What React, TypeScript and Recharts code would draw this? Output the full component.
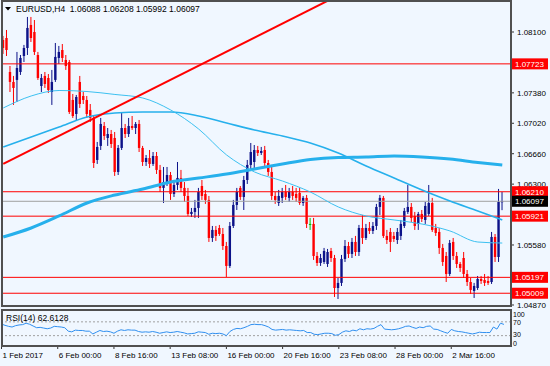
import React from 'react';
import { ComposedChart, Bar, Line, XAxis, YAxis, ReferenceLine } from 'recharts';

const symbol = 'EURUSD,H4';

// time axis: one label every 16 H4 candles
const tickIdx = [0, 16, 32, 48, 64, 80, 96, 112, 128];
const tickLabels = ['1 Feb 2017', '6 Feb 00:00', '8 Feb 16:00', '13 Feb 08:00', '16 Feb 00:00', '20 Feb 16:00', '23 Feb 08:00', '28 Feb 00:00', '2 Mar 16:00'];

const opens = [
  1.08006, 1.08029, 1.07627, 1.07509, 1.07533, 1.07627, 1.07816, 1.07911, 1.08183, 1.081,
  1.07828, 1.07461, 1.0758, 1.07556, 1.0739, 1.07533, 1.07793, 1.07887, 1.07769, 1.07745,
  1.07296, 1.0713, 1.07509, 1.07343, 1.07296, 1.07178, 1.07083, 1.06586, 1.06752, 1.06988,
  1.06846, 1.06893, 1.06846, 1.06444, 1.06728, 1.06964, 1.06893, 1.06988, 1.06964, 1.07012,
  1.06728, 1.06562, 1.06609, 1.06539, 1.06633, 1.06468, 1.06255, 1.06314, 1.06408, 1.06184,
  1.0629, 1.06373, 1.06255, 1.0616, 1.05947, 1.05971, 1.06018, 1.06278, 1.06184, 1.06113,
  1.05663, 1.05758, 1.05781, 1.0571, 1.05568, 1.05332, 1.05805, 1.06054, 1.06255, 1.06148,
  1.06349, 1.06527, 1.06562, 1.06704, 1.06669, 1.06704, 1.0655, 1.06444, 1.0616, 1.06077,
  1.06137, 1.06207, 1.06137, 1.06207, 1.06184, 1.06196, 1.06077, 1.06137, 1.05829, 1.05829,
  1.0545, 1.05367, 1.05379, 1.05355, 1.05509, 1.05426, 1.05071, 1.05131, 1.05415, 1.05568,
  1.05474, 1.05616, 1.05497, 1.05781, 1.05663, 1.05781, 1.05746, 1.05805, 1.0603, 1.06137,
  1.05687, 1.05734, 1.05687, 1.05639, 1.05687, 1.05805, 1.05971, 1.0603, 1.05923, 1.05829,
  1.05947, 1.05876, 1.05947, 1.06077, 1.05781, 1.05734, 1.05545, 1.0545, 1.05237, 1.05616,
  1.0545, 1.05355, 1.05426, 1.05237, 1.05142, 1.05036, 1.05071, 1.05178, 1.05166, 1.05154,
  1.05142, 1.05675, 1.05438, 1.06088,
];
const highs = [
  1.08053, 1.08124, 1.07698, 1.0758, 1.07864, 1.07828, 1.07947, 1.08278, 1.08278, 1.08242,
  1.07864, 1.07603, 1.07627, 1.07603, 1.07651, 1.0797, 1.07935, 1.07958, 1.07828, 1.07769,
  1.07367, 1.07355, 1.0758, 1.0739, 1.07343, 1.07248, 1.07118, 1.06799, 1.07083, 1.07035,
  1.06964, 1.06941, 1.06917, 1.06763, 1.07142, 1.07012, 1.07083, 1.07106, 1.07035, 1.07059,
  1.06752, 1.06645, 1.06704, 1.0668, 1.0668, 1.06527, 1.06503, 1.06503, 1.06444, 1.06325,
  1.06562, 1.06468, 1.06325, 1.06255, 1.06018, 1.06113, 1.06255, 1.06349, 1.06231, 1.0616,
  1.05805, 1.05805, 1.05817, 1.05781, 1.05616, 1.05852, 1.06113, 1.06255, 1.06278, 1.06397,
  1.06586, 1.06787, 1.06763, 1.06752, 1.0674, 1.06752, 1.06586, 1.06527, 1.06207, 1.06231,
  1.06255, 1.0629, 1.06255, 1.06278, 1.06255, 1.06255, 1.0616, 1.06172, 1.059, 1.059,
  1.05497, 1.05474, 1.05545, 1.05533, 1.05545, 1.05462, 1.0519, 1.05462, 1.05639, 1.05616,
  1.05663, 1.05687, 1.05817, 1.05935, 1.05829, 1.05852, 1.05852, 1.06066, 1.06172, 1.0616,
  1.05758, 1.05781, 1.05734, 1.05781, 1.05876, 1.06018, 1.0629, 1.06077, 1.05971, 1.05971,
  1.05994, 1.06089, 1.0629, 1.06137, 1.05829, 1.05781, 1.05592, 1.05497, 1.05639, 1.05663,
  1.05497, 1.05379, 1.05497, 1.05284, 1.0519, 1.05131, 1.05213, 1.05213, 1.05237, 1.05213,
  1.05734, 1.0571, 1.06243, 1.06208,
];
const lows = [
  1.0784, 1.07816, 1.0739, 1.07237, 1.07272, 1.07592, 1.07745, 1.07828, 1.07982, 1.07828,
  1.07533, 1.0739, 1.07438, 1.07379, 1.07237, 1.07509, 1.07722, 1.07745, 1.07651, 1.0713,
  1.07083, 1.07059, 1.07201, 1.07248, 1.07083, 1.07035, 1.06491, 1.06539, 1.06704, 1.06823,
  1.06752, 1.06728, 1.06397, 1.06408, 1.06704, 1.06846, 1.06858, 1.06941, 1.06893, 1.0668,
  1.06515, 1.06515, 1.06491, 1.06515, 1.0642, 1.06207, 1.06077, 1.06278, 1.06113, 1.06148,
  1.06231, 1.06207, 1.06089, 1.05923, 1.05911, 1.059, 1.059, 1.06113, 1.06066, 1.05616,
  1.05616, 1.05628, 1.05687, 1.05521, 1.05201, 1.05308, 1.05781, 1.05994, 1.06113, 1.05994,
  1.06302, 1.06468, 1.06468, 1.06633, 1.06645, 1.06515, 1.06397, 1.06113, 1.06066, 1.06042,
  1.06077, 1.06113, 1.06089, 1.06113, 1.06089, 1.06054, 1.06042, 1.05781, 1.05758, 1.05403,
  1.05332, 1.05332, 1.05355, 1.0532, 1.05379, 1.04965, 1.04941, 1.05095, 1.05379, 1.05426,
  1.05426, 1.0545, 1.0545, 1.05592, 1.05639, 1.0571, 1.0571, 1.05758, 1.05935, 1.05663,
  1.05592, 1.05497, 1.05616, 1.05592, 1.05639, 1.05781, 1.05947, 1.05852, 1.05758, 1.05758,
  1.05852, 1.05829, 1.05923, 1.05734, 1.05687, 1.05474, 1.05332, 1.05142, 1.05213, 1.05403,
  1.05308, 1.05261, 1.0519, 1.05095, 1.05, 1.04953, 1.05048, 1.05119, 1.05095, 1.05107,
  1.05119, 1.05379, 1.05379, 1.05992,
];
const closes = [
  1.07911, 1.07887, 1.07509, 1.07438, 1.07674, 1.07793, 1.07911, 1.08148, 1.08029, 1.07864,
  1.07556, 1.07556, 1.07485, 1.07414, 1.07509, 1.07805, 1.07864, 1.07793, 1.07698, 1.07154,
  1.07106, 1.07331, 1.07248, 1.07296, 1.0713, 1.07083, 1.0655, 1.0674, 1.07012, 1.0687,
  1.06893, 1.06775, 1.06444, 1.06728, 1.06964, 1.06893, 1.06988, 1.06964, 1.07012, 1.06728,
  1.06562, 1.06609, 1.06539, 1.06633, 1.06468, 1.06255, 1.06325, 1.06408, 1.06184, 1.0629,
  1.06373, 1.06255, 1.0616, 1.05947, 1.05971, 1.06018, 1.06207, 1.0616, 1.06113, 1.05663,
  1.05758, 1.05687, 1.0571, 1.05568, 1.05332, 1.05805, 1.06054, 1.06207, 1.06148, 1.06349,
  1.06527, 1.0668, 1.06704, 1.06669, 1.06692, 1.0655, 1.06444, 1.0616, 1.06113, 1.0616,
  1.06207, 1.06148, 1.06207, 1.0616, 1.06137, 1.06077, 1.06137, 1.05829, 1.05829, 1.0545,
  1.05367, 1.05426, 1.05509, 1.05497, 1.05426, 1.05071, 1.05131, 1.05415, 1.05568, 1.05474,
  1.05616, 1.05497, 1.05781, 1.05663, 1.05781, 1.05746, 1.05805, 1.0603, 1.06137, 1.05687,
  1.05639, 1.05616, 1.05651, 1.05734, 1.05829, 1.05983, 1.0603, 1.059, 1.05805, 1.05947,
  1.05888, 1.06042, 1.06077, 1.05758, 1.05722, 1.05545, 1.05379, 1.05237, 1.05604, 1.0545,
  1.05355, 1.05308, 1.05237, 1.05142, 1.05048, 1.05095, 1.05178, 1.05154, 1.05131, 1.05131,
  1.05675, 1.05438, 1.06089, 1.06097,
];

// moving averages, read every 8th candle
const maIdx = [0, 8, 16, 24, 32, 40, 48, 56, 64, 72, 80, 88, 96, 104, 112, 120, 128, 136, 143];
const maFast = [1.07201, 1.07343, 1.07408, 1.07396, 1.07361, 1.07319, 1.07177, 1.06952, 1.06645, 1.06444, 1.06337, 1.06207, 1.0603, 1.05923, 1.05876, 1.05828, 1.05746, 1.05615, 1.05603];
const maMid = [1.06739, 1.06858, 1.06976, 1.07094, 1.07142, 1.07153, 1.07153, 1.07106, 1.07023, 1.0694, 1.06869, 1.06787, 1.06668, 1.06514, 1.06372, 1.0623, 1.061, 1.05982, 1.05876];
const maSlow = [1.05674, 1.05781, 1.05923, 1.06077, 1.06171, 1.06242, 1.06325, 1.06372, 1.0642, 1.06479, 1.06538, 1.06591, 1.06615, 1.06621, 1.06633, 1.06621, 1.06597, 1.06556, 1.06526];

const rsi = [
  63.5, 60, 57, 55, 59, 61, 62, 66, 63, 58, 53, 54, 52, 50, 52, 57, 56, 55, 53, 43,
  41, 46, 45, 45, 43, 43, 35, 40, 45, 42, 43, 41, 37, 43, 47, 45, 47, 46, 46, 42,
  40, 41, 40, 42, 40, 37, 39, 41, 39, 40, 42, 40, 38, 35, 36, 37, 41, 40, 39, 34,
  37, 36, 37, 35, 30, 42, 48, 51, 50, 53, 57, 62, 63, 62, 62, 59, 55, 48, 46, 47,
  48, 46, 47, 46, 45, 44, 45, 39, 39, 34, 33, 35, 37, 37, 36, 31, 33, 40, 44, 42,
  46, 44, 50, 47, 50, 49, 51, 57, 62, 49, 48, 47, 48, 50, 53, 57, 58, 54, 51, 55,
  53, 57, 58, 49, 48, 44, 40, 37, 48, 44, 42, 41, 39, 37, 35, 37, 40, 39, 39, 39,
  55, 49, 66, 62.6128,
];

const priceTicks = [1.081, 1.0738, 1.0702, 1.0666, 1.063, 1.0558, 1.0487];
const levels = [1.07723, 1.0621, 1.05921, 1.05197, 1.05009];
const bid = 1.06097;
const trendStart = 1.0654;
const trendEnd = 1.0847;
const trendEndIdx = 93;
const rsiTicks = [0, 30, 70, 100];

const SLOTS = 146;
const PMIN = 1.04858;
const PMAX = 1.08455;
const BULL = '#0c1289';
const BEAR = '#ff0000';
const DOJI = '#00c000';
const MA = '#26b0ec';
const FONT = '"Liberation Sans", Arial, sans-serif';
const BG = '#f0f7ff';

const rows = Array.from({ length: SLOTS }, (_, i) => {
  const has = i < closes.length;
  const k = maIdx.indexOf(i);
  return {
    i,
    open: has ? opens[i] : null,
    high: has ? highs[i] : null,
    low: has ? lows[i] : null,
    close: has ? closes[i] : null,
    range: has ? [lows[i], highs[i]] : null,
    maFast: k >= 0 ? maFast[k] : null,
    maMid: k >= 0 ? maMid[k] : null,
    maSlow: k >= 0 ? maSlow[k] : null,
    rsi: has ? rsi[i] : null,
  };
});

const Candle = (props: any) => {
  const { x, width, payload } = props;
  let { y, height } = props;
  if (!payload || payload.open == null) return null;
  if (height < 0) {
    y += height;
    height = -height;
  }
  const { open, close, high, low } = payload;
  const cx = x + width / 2;
  const span = high - low || 1;
  const yAt = (v: number) => y + ((high - v) / span) * height;
  const color = close > open ? BULL : close < open ? BEAR : DOJI;
  const top = yAt(Math.max(open, close));
  const bot = yAt(Math.min(open, close));
  return (
    <g>
      <line x1={cx} x2={cx} y1={y} y2={y + height} stroke={color} strokeWidth={1} />
      <rect x={cx - 1.2} y={top} width={2.4} height={Math.max(bot - top, 1)} fill={color} />
    </g>
  );
};

const PriceTick = (props: any) => {
  const { x, y, payload } = props;
  const v = payload.value;
  const text = v.toFixed(5);
  const isLevel = levels.includes(v);
  const isBid = v === bid;
  if (isLevel || isBid) {
    return (
      <g>
        <rect x={x - 5} y={y - 5.5} width={36} height={11} fill={isBid ? '#000' : '#ff0000'} />
        <text x={x - 2} y={y + 3} fontSize={8} fontFamily={FONT} fill="#fff">{text}</text>
      </g>
    );
  }
  return (
    <g>
      <line x1={x - 6} x2={x - 3} y1={y} y2={y} stroke="#333" />
      <text x={x} y={y + 3} fontSize={8} fontFamily={FONT} fill="#000">{text}</text>
    </g>
  );
};

// MT4 keeps the 100 / 0 labels inside the panel
const RsiTick = (props: any) => {
  const { x, y, payload } = props;
  const v = payload.value;
  const dy = v === 100 ? 5 : v === 70 ? 3 : v === 30 ? 1 : -0.5;
  return (
    <text x={x} y={y + dy} fontSize={7} fontFamily={FONT} fill="#000">{v}</text>
  );
};

const DateTick = (props: any) => {
  const { x, y, payload } = props;
  const label = tickLabels[tickIdx.indexOf(payload.value)];
  return (
    <g>
      <line x1={x} x2={x} y1={y} y2={y + 3} stroke="#333" />
      <text x={x + 1} y={y + 12} fontSize={8} fontFamily={FONT} fill="#000">{label}</text>
    </g>
  );
};

export default function App() {
  const last = closes.length - 1;
  const header = `${symbol}  ${opens[last].toFixed(5)} ${highs[last].toFixed(5)} ${lows[last].toFixed(5)} ${closes[last].toFixed(5)}`;
  return (
    <div style={{ position: 'absolute', left: 0, top: 0, width: 550, height: 366, background: BG, overflow: 'hidden' }}>
      <div style={{ position: 'absolute', left: 0, top: 0 }}>
        <ComposedChart width={550} height={310} data={rows} margin={{ top: 2, right: 0, bottom: 4, left: 1.5 }}>
          <XAxis dataKey="i" type="category" hide />
          <YAxis
            orientation="right"
            width={39}
            domain={[PMIN, PMAX]}
            allowDataOverflow
            ticks={[...priceTicks, ...levels, bid]}
            interval={0}
            axisLine={false}
            tickLine={false}
            tickSize={3}
            tickMargin={3}
            tick={<PriceTick />}
          />
          {levels.map((v) => (
            <ReferenceLine key={v} y={v} stroke="#ff0000" strokeWidth={1} />
          ))}
          <ReferenceLine y={bid} stroke="#a0a0a0" strokeWidth={1} />
          <Bar dataKey="range" barSize={3} shape={<Candle />} isAnimationActive={false} />
          <Line dataKey="maSlow" type="monotone" stroke={MA} strokeWidth={3} dot={false} connectNulls isAnimationActive={false} />
          <Line dataKey="maMid" type="monotone" stroke={MA} strokeWidth={1.6} dot={false} connectNulls isAnimationActive={false} />
          <Line dataKey="maFast" type="monotone" stroke="#3cc0f0" strokeWidth={1} dot={false} connectNulls isAnimationActive={false} />
          <ReferenceLine
            segment={[{ x: 0, y: trendStart }, { x: trendEndIdx, y: trendEnd }]}
            stroke="#ff0000"
            strokeWidth={2}
            ifOverflow="hidden"
          />
        </ComposedChart>
      </div>
      <div style={{ position: 'absolute', left: 0, top: 300 }}>
        <ComposedChart width={550} height={66} data={rows} margin={{ top: 11.5, right: 0, bottom: 0, left: 1.5 }}>
          <XAxis
            dataKey="i"
            type="category"
            ticks={tickIdx}
            interval={0}
            height={20}
            axisLine={false}
            tickLine={false}
            tickSize={0}
            tickMargin={0}
            tick={<DateTick />}
          />
          <YAxis
            orientation="right"
            width={39}
            domain={[0, 100]}
            ticks={rsiTicks}
            interval={0}
            axisLine={false}
            tickLine={false}
            tickSize={0}
            tickMargin={2}
            tick={<RsiTick />}
          />
          <ReferenceLine y={70} stroke="#a0a0a0" strokeDasharray="2 2" />
          <ReferenceLine y={30} stroke="#a0a0a0" strokeDasharray="2 2" />
          <Line dataKey="rsi" type="linear" stroke="#2f8ff0" strokeWidth={1} dot={false} isAnimationActive={false} />
        </ComposedChart>
      </div>
      <svg width={550} height={366} style={{ position: 'absolute', left: 0, top: 0, pointerEvents: 'none' }}>
        <rect x={2} y={1} width={509} height={305} fill="none" stroke="#505050" strokeWidth={2} />
        <rect x={2} y={310} width={509} height={36} fill="none" stroke="#505050" strokeWidth={2} />
        <polygon points="5,7 11,7 8,10.5" fill="#000" />
        <text x={16} y={12} fontSize={8.5} fontFamily={FONT} fill="#000" style={{ whiteSpace: 'pre' }}>{header}</text>
        <text x={6} y={320.5} fontSize={8.5} fontFamily={FONT} fill="#000">RSI(14) {rsi[last].toFixed(4)}</text>
      </svg>
    </div>
  );
}
